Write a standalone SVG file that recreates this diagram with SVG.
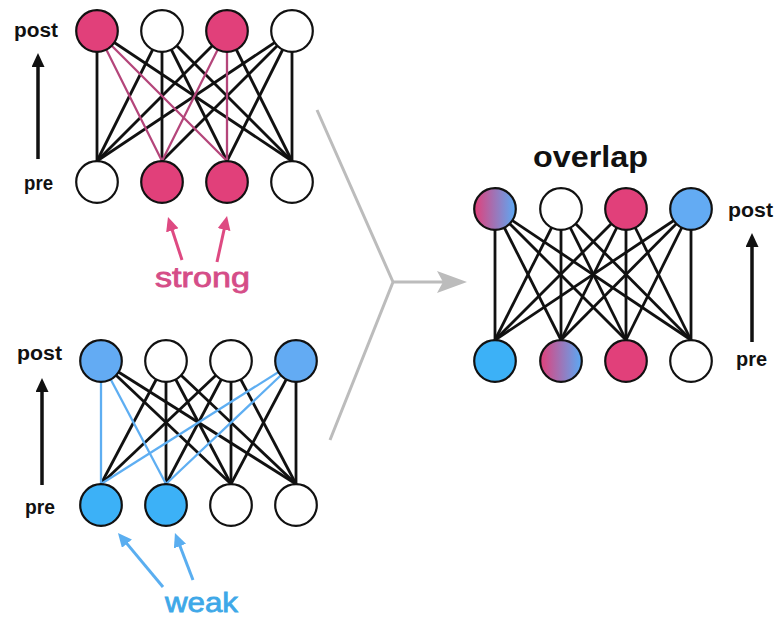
<svg xmlns="http://www.w3.org/2000/svg" width="778" height="621" viewBox="0 0 778 621">
<defs>
<style>
.n{stroke:#111;stroke-width:2.2}
.w{fill:#fff}
.pk{fill:#e1407a}
.bl{fill:#63abf3}
.bb{fill:#3cb1f7}
.gr{fill:url(#pb)}
.e{stroke:#111;stroke-width:2.8;fill:none}
.ep{stroke:#b4457a;stroke-width:2.3;fill:none}
.eb{stroke:#5eaef2;stroke-width:2.3;fill:none}
.lbl{font-family:"Liberation Sans",Arial,sans-serif;font-weight:bold;font-size:20px;fill:#111}
</style>
<linearGradient id="pb" x1="0" y1="0" x2="1" y2="0">
<stop offset="0" stop-color="#e1407a"/>
<stop offset="1" stop-color="#5aaaf5"/>
</linearGradient>
<marker id="hk" markerUnits="userSpaceOnUse" markerWidth="16" markerHeight="16" refX="3" refY="6.5" orient="auto">
<path d="M0,0 L14,6.5 L0,13 Z" fill="#111"/>
</marker>
<marker id="hp" markerUnits="userSpaceOnUse" markerWidth="16" markerHeight="16" refX="3" refY="6.5" orient="auto">
<path d="M0,0 L14,6.5 L0,13 Z" fill="#de4a82"/>
</marker>
<marker id="hb" markerUnits="userSpaceOnUse" markerWidth="16" markerHeight="16" refX="3" refY="6.5" orient="auto">
<path d="M0,0 L14,6.5 L0,13 Z" fill="#5aaef0"/>
</marker>
</defs>
<rect width="778" height="621" fill="#fff"/>

<g id="connectors">
<!-- top network -->
<g>
<line class="e" x1="97" y1="31" x2="97" y2="161"/>
<line class="e" x1="97" y1="31" x2="292" y2="161"/>
<line class="e" x1="162" y1="31" x2="97" y2="161"/>
<line class="e" x1="162" y1="31" x2="162" y2="161"/>
<line class="e" x1="162" y1="31" x2="227" y2="161"/>
<line class="e" x1="162" y1="31" x2="292" y2="161"/>
<line class="e" x1="227" y1="31" x2="97" y2="161"/>
<line class="e" x1="227" y1="31" x2="292" y2="161"/>
<line class="e" x1="292" y1="31" x2="97" y2="161"/>
<line class="e" x1="292" y1="31" x2="162" y2="161"/>
<line class="e" x1="292" y1="31" x2="227" y2="161"/>
<line class="e" x1="292" y1="31" x2="292" y2="161"/>
<line class="ep" x1="97" y1="31" x2="162" y2="161"/>
<line class="ep" x1="97" y1="31" x2="227" y2="161"/>
<line class="ep" x1="227" y1="31" x2="162" y2="161"/>
<line class="ep" x1="227" y1="31" x2="227" y2="161"/>
</g>
<!-- bottom network -->
<g>
<line class="e" x1="101" y1="361" x2="231" y2="484"/>
<line class="e" x1="101" y1="361" x2="296" y2="484"/>
<line class="e" x1="166" y1="361" x2="101" y2="484"/>
<line class="e" x1="166" y1="361" x2="166" y2="484"/>
<line class="e" x1="166" y1="361" x2="231" y2="484"/>
<line class="e" x1="166" y1="361" x2="296" y2="484"/>
<line class="e" x1="231" y1="361" x2="101" y2="484"/>
<line class="e" x1="231" y1="361" x2="166" y2="484"/>
<line class="e" x1="231" y1="361" x2="231" y2="484"/>
<line class="e" x1="231" y1="361" x2="296" y2="484"/>
<line class="e" x1="296" y1="361" x2="231" y2="484"/>
<line class="e" x1="296" y1="361" x2="296" y2="484"/>
<line class="eb" x1="101" y1="361" x2="101" y2="484"/>
<line class="eb" x1="101" y1="361" x2="166" y2="484"/>
<line class="eb" x1="296" y1="361" x2="101" y2="484"/>
<line class="eb" x1="296" y1="361" x2="166" y2="484"/>
</g>
<!-- overlap network -->
<g>
<line class="e" x1="495" y1="209" x2="495" y2="340"/>
<line class="e" x1="495" y1="209" x2="561" y2="340"/>
<line class="e" x1="495" y1="209" x2="626" y2="340"/>
<line class="e" x1="495" y1="209" x2="691" y2="340"/>
<line class="e" x1="561" y1="209" x2="495" y2="340"/>
<line class="e" x1="561" y1="209" x2="561" y2="340"/>
<line class="e" x1="561" y1="209" x2="626" y2="340"/>
<line class="e" x1="561" y1="209" x2="691" y2="340"/>
<line class="e" x1="626" y1="209" x2="495" y2="340"/>
<line class="e" x1="626" y1="209" x2="561" y2="340"/>
<line class="e" x1="626" y1="209" x2="626" y2="340"/>
<line class="e" x1="626" y1="209" x2="691" y2="340"/>
<line class="e" x1="691" y1="209" x2="495" y2="340"/>
<line class="e" x1="691" y1="209" x2="561" y2="340"/>
<line class="e" x1="691" y1="209" x2="626" y2="340"/>
<line class="e" x1="691" y1="209" x2="691" y2="340"/>
</g>
<!-- pre to post arrows -->
<line x1="38" y1="159" x2="38" y2="64" stroke="#111" stroke-width="3.5" marker-end="url(#hk)"/>
<line x1="42" y1="485" x2="42" y2="389" stroke="#111" stroke-width="3.5" marker-end="url(#hk)"/>
<line x1="752" y1="342" x2="752" y2="244" stroke="#111" stroke-width="3.5" marker-end="url(#hk)"/>
<!-- strong / weak pointers -->
<line x1="182" y1="260" x2="171.4" y2="227.5" stroke="#de4a82" stroke-width="3" marker-end="url(#hp)"/>
<line x1="217" y1="262" x2="224.7" y2="226.7" stroke="#de4a82" stroke-width="3" marker-end="url(#hp)"/>
<line x1="163" y1="587" x2="125" y2="541.4" stroke="#5aaef0" stroke-width="3" marker-end="url(#hb)"/>
<line x1="193" y1="580" x2="178.9" y2="543.3" stroke="#5aaef0" stroke-width="3" marker-end="url(#hb)"/>
<!-- merge arrow -->
<path d="M317,110 L393,282 L330,440 M393,282 L446,282" stroke="#bcbcbc" stroke-width="3" fill="none"/>
<path d="M467,282 L437,271 L443,282 L437,293 Z" fill="#bcbcbc"/>
</g>

<g id="top-net">
<g id="t-post1"><circle class="n pk" cx="97" cy="31" r="20.8"/></g>
<g id="t-post2"><circle class="n w" cx="162" cy="31" r="20.8"/></g>
<g id="t-post3"><circle class="n pk" cx="227" cy="31" r="20.8"/></g>
<g id="t-post4"><circle class="n w" cx="292" cy="31" r="20.8"/></g>
<g id="t-pre1"><circle class="n w" cx="97" cy="182" r="20.8"/></g>
<g id="t-pre2"><circle class="n pk" cx="162" cy="182" r="20.8"/></g>
<g id="t-pre3"><circle class="n pk" cx="227" cy="182" r="20.8"/></g>
<g id="t-pre4"><circle class="n w" cx="292" cy="182" r="20.8"/></g>
</g>

<g id="bottom-net">
<g id="b-post1"><circle class="n bl" cx="101" cy="361" r="20.8"/></g>
<g id="b-post2"><circle class="n w" cx="166" cy="361" r="20.8"/></g>
<g id="b-post3"><circle class="n w" cx="231" cy="361" r="20.8"/></g>
<g id="b-post4"><circle class="n bl" cx="296" cy="361" r="20.8"/></g>
<g id="b-pre1"><circle class="n bb" cx="101" cy="505" r="20.8"/></g>
<g id="b-pre2"><circle class="n bb" cx="166" cy="505" r="20.8"/></g>
<g id="b-pre3"><circle class="n w" cx="231" cy="505" r="20.8"/></g>
<g id="b-pre4"><circle class="n w" cx="296" cy="505" r="20.8"/></g>
</g>

<g id="overlap-net">
<g id="o-post1"><circle class="n gr" cx="495" cy="209" r="20.8"/></g>
<g id="o-post2"><circle class="n w" cx="561" cy="209" r="20.8"/></g>
<g id="o-post3"><circle class="n pk" cx="626" cy="209" r="20.8"/></g>
<g id="o-post4"><circle class="n bl" cx="691" cy="209" r="20.8"/></g>
<g id="o-pre1"><circle class="n bb" cx="495" cy="361" r="20.8"/></g>
<g id="o-pre2"><circle class="n gr" cx="561" cy="361" r="20.8"/></g>
<g id="o-pre3"><circle class="n pk" cx="626" cy="361" r="20.8"/></g>
<g id="o-pre4"><circle class="n w" cx="691" cy="361" r="20.8"/></g>
</g>

<g id="labels">
<text class="lbl" x="14" y="37" textLength="44" lengthAdjust="spacingAndGlyphs">post</text>
<text class="lbl" x="24" y="190" textLength="29" lengthAdjust="spacingAndGlyphs">pre</text>
<text class="lbl" x="17" y="360" textLength="45" lengthAdjust="spacingAndGlyphs">post</text>
<text class="lbl" x="25" y="514" textLength="30" lengthAdjust="spacingAndGlyphs">pre</text>
<text class="lbl" x="728" y="217" textLength="45" lengthAdjust="spacingAndGlyphs">post</text>
<text class="lbl" x="736" y="366" textLength="31" lengthAdjust="spacingAndGlyphs">pre</text>
<text x="533" y="167" font-family="Liberation Sans, Arial, sans-serif" font-weight="bold" font-size="30" fill="#111" textLength="115" lengthAdjust="spacingAndGlyphs">overlap</text>
<text x="155" y="287" font-family="Liberation Sans, Arial, sans-serif" font-size="28" fill="#d54d88" stroke="#d54d88" stroke-width="0.8" textLength="95" lengthAdjust="spacingAndGlyphs">strong</text>
<text x="165" y="612" font-family="Liberation Sans, Arial, sans-serif" font-size="28" fill="#3ea8e8" stroke="#3ea8e8" stroke-width="0.8" textLength="73" lengthAdjust="spacingAndGlyphs">weak</text>
</g>
</svg>
